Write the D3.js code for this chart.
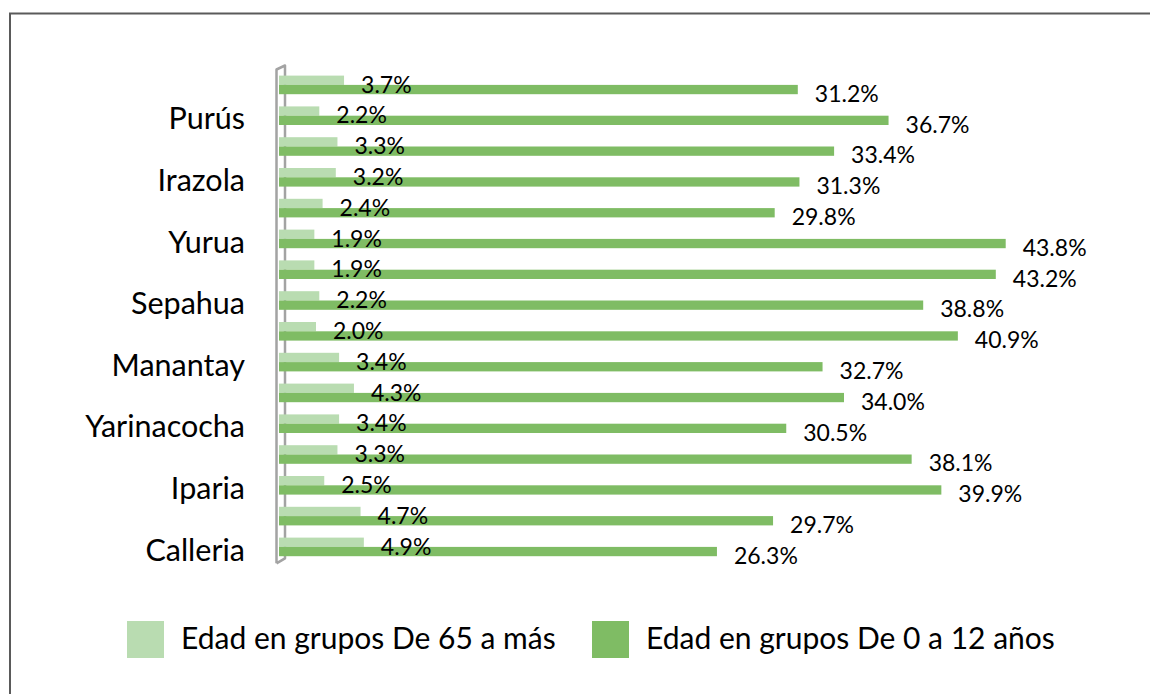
<!DOCTYPE html>
<meta charset="utf-8">
<script src="https://d3js.org/d3.v7.min.js"></script>

<style>
body { margin: 0; background: #fff; }
svg { font-family: Lato, "Open Sans", sans-serif; }
.cat text { font-size: 30.5px; fill: #000; }
.lbl { font-size: 23px; fill: #000; }
.leg { font-size: 30px; fill: #000; }
</style>

<div id="chart"></div>

<script>
  // Data, listed bottom to top as in the sheet (empty names = unlabeled rows)
  var categories = ["Calleria", "", "Iparia", "", "Yarinacocha", "", "Manantay", "",
                    "Sepahua", "", "Yurua", "", "Irazola", "", "Purús", ""];
  var age65   = [4.9, 4.7, 2.5, 3.3, 3.4, 4.3, 3.4, 2.0, 2.2, 1.9, 1.9, 2.4, 3.2, 3.3, 2.2, 3.7];
  var age0_12 = [26.3, 29.7, 39.9, 38.1, 30.5, 34.0, 32.7, 40.9, 38.8, 43.2, 43.8, 29.8, 31.3, 33.4, 36.7, 31.2];
  var seriesNames = ["Edad en grupos De 65 a más", "Edad en grupos De 0 a 12 años"];
  var colors = ["#b9dcb1", "#7fbc64"];

  var width = 1150, height = 694;
  var svg = d3.select("#chart")
              .append("svg")
              .attr("width", width)
              .attr("height", height);

  // chart frame
  svg.append("rect")
     .attr("x", 10).attr("y", 13.5)
     .attr("width", 1300).attr("height", 900)
     .attr("fill", "none")
     .attr("stroke", "#5a5a5a")
     .attr("stroke-width", 2);

  // Scales
  var idx = d3.range(categories.length);
  var y = d3.scaleBand()
            .domain(idx.slice().reverse())
            .range([69.5, 562.3]);
  var x = d3.scaleLinear()
            .domain([0, 45])
            .range([283, 1025.5]);
  var barH = 9.3;
  var depth = 4;

  // 3D wall of the category axis
  var wx = x(0) - 6.5, wTop = y.range()[0], wBot = y.range()[1] + 1;
  svg.append("path")
     .attr("d", "M" + wx + "," + wBot + "V" + wTop + "L" + (wx + 8.5) + "," + (wTop - 4) +
                "V" + (wBot - 5) + "L" + wx + "," + wBot)
     .attr("fill", "none")
     .attr("stroke", "#a3a3a3")
     .attr("stroke-width", 2.5)
     .attr("stroke-linejoin", "round");

  function mid(i) { return y(i) + y.bandwidth() / 2; }

  // bars: light series above the band centre, dark series below
  svg.selectAll(".b65")
     .data(idx)
     .enter()
     .append("rect")
     .attr("x", x(0) - depth)
     .attr("y", function (i) { return mid(i) - barH; })
     .attr("width", function (i) { return x(age65[i]) - x(0) + depth; })
     .attr("height", barH)
     .attr("fill", colors[0]);

  svg.selectAll(".b012")
     .data(idx)
     .enter()
     .append("rect")
     .attr("x", x(0) - depth)
     .attr("y", function (i) { return mid(i); })
     .attr("width", function (i) { return x(age0_12[i]) - x(0) + depth; })
     .attr("height", barH)
     .attr("fill", colors[1]);

  // value labels
  svg.selectAll(".l65")
     .data(idx)
     .enter()
     .append("text")
     .attr("class", "lbl")
     .attr("x", function (i) { return x(age65[i]) + 17; })
     .attr("y", function (i) { return mid(i) - barH / 2 + 4; })
     .attr("dy", "0.36em")
     .text(function (i) { return age65[i].toFixed(1) + "%"; });

  svg.selectAll(".l012")
     .data(idx)
     .enter()
     .append("text")
     .attr("class", "lbl")
     .attr("x", function (i) { return x(age0_12[i]) + 17; })
     .attr("y", function (i) { return mid(i) + barH / 2 + 4; })
     .attr("dy", "0.36em")
     .text(function (i) { return age0_12[i].toFixed(1) + "%"; });

  // Category axis labels
  var axis = d3.axisLeft(y)
               .tickSize(0)
               .tickPadding(8)
               .tickFormat(function (i) { return categories[i]; });

  svg.append("g")
     .attr("class", "cat")
     .attr("transform", "translate(253,4)")
     .call(axis)
     .attr("font-family", null)
     .attr("font-size", null)
     .call(function (g) { g.select(".domain").remove(); });

  // Legend
  var legX = [127, 592];
  var leg = svg.selectAll(".legend")
               .data(seriesNames)
               .enter()
               .append("g")
               .attr("transform", function (d, i) { return "translate(" + legX[i] + ",621)"; });
  leg.append("rect")
     .attr("width", 37).attr("height", 37)
     .attr("fill", function (d, i) { return colors[i]; });
  leg.append("text")
     .attr("class", "leg")
     .attr("x", 54)
     .attr("y", 27.5)
     .text(function (d) { return d; });
</script>
